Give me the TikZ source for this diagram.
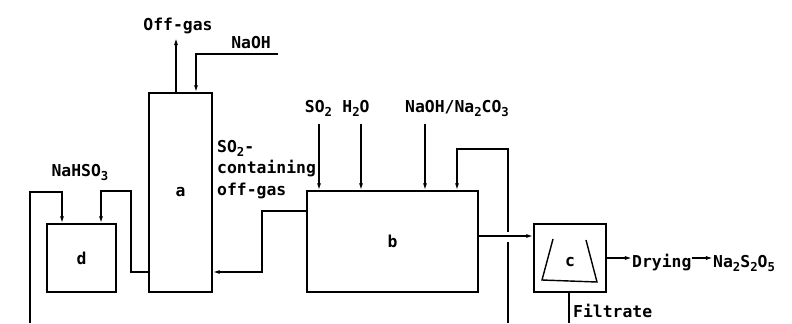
\documentclass[tikz,border=0pt]{standalone}
\usepackage{fontspec}
\setmainfont{DejaVu Sans Mono}
\usetikzlibrary{arrows.meta}
\newcommand\low[1]{\raisebox{-0.45ex}{\fontsize{10.5}{10.5}\selectfont #1}}
\tikzset{
  vessel/.style={draw, line width=1.2pt, inner sep=0pt},
  pipe/.style={line width=1.2pt},
  stream/.style={pipe, -{Latex[length=6pt,width=3.5pt]}},
  lbl/.style={inner sep=0pt}
}
\begin{document}
\begin{tikzpicture}[x=0.03cm, y=0.03cm, font=\fontsize{14}{18.3}\selectfont\bfseries]
    \useasboundingbox (0,0) rectangle (792,323);
    % units
    \node [vessel, minimum width=1.89cm, minimum height=5.97cm] (a) at (180.5,130.5) {a};
    \node [vessel, minimum width=2.07cm, minimum height=2.04cm] (d) at (81.5,65) {d};
    \node [vessel, minimum width=5.13cm, minimum height=3.03cm] (b) at (392.5,81.5) {b};
    \node [vessel, minimum width=2.16cm, minimum height=2.04cm, text height=14.5pt] (c) at (570,65) {c};
    \draw [pipe] (553,84) -- (542,43) -- (597,41) -- (586,83);
    % labels
    \node [lbl, anchor=base] (offgas) at (178,293) {Off-gas};
    \node [lbl, anchor=base] (naoh) at (251,275) {NaOH};
    \node [lbl, anchor=base] (nahso) at (80,147) {NaHSO\low{3}};
    \node [lbl, anchor=north west, align=left] (sogas) at (217,183) {SO\low{2}-\\containing\\off-gas};
    \node [lbl, anchor=base] (so) at (318.5,211) {SO\low{2}};
    \node [lbl, anchor=base] (water) at (356,211) {H\low{2}O};
    \node [lbl, anchor=base] (alkali) at (457,211) {NaOH/Na\low{2}CO\low{3}};
    \node [lbl, anchor=base west] (dry) at (632,56) {Drying};
    \node [lbl, anchor=base west] (prod) at (713,56) {Na\low{2}S\low{2}O\low{5}};
    \node [lbl, anchor=base west] (filtrate) at (573,6) {Filtrate};
    % free ends and bends
    \coordinate (gasout) at (176,285);
    \coordinate (naohin) at (278,269);
    \coordinate (naohbend) at (196,269);
    \coordinate (leftin) at (30,0);
    \coordinate (leftbend) at (62,131);
    \coordinate (adbend) at (131,51);
    \coordinate (adtop) at (101,132);
    \coordinate (babend) at (262,112);
    \coordinate (balow) at (262,51);
    \coordinate (soin) at (319,199);
    \coordinate (waterin) at (361,199);
    \coordinate (alkaliin) at (425,199);
    \coordinate (recin) at (508,0);
    \coordinate (recgap) at (508,91);
    \coordinate (rectop) at (508,174);
    \coordinate (recb) at (457,174);
    \coordinate (bcline) at (490,87);
    \coordinate (filtout) at (569,0);
    % streams
    \draw [stream] (gasout |- a.north) -- (gasout);
    \draw [stream] (naohin) -- (naohbend) -- (naohbend |- a.north);
    \draw [stream] (leftin) |- (leftbend) -- (leftbend |- d.north);
    \draw [stream] (adbend -| a.west) -- (adbend) |- (adtop) -- (adtop |- d.north);
    \draw [stream] (babend -| b.west) -- (babend) -- (balow) -- (balow -| a.east);
    \draw [stream] (soin) -- (soin |- b.north);
    \draw [stream] (waterin) -- (waterin |- b.north);
    \draw [stream] (alkaliin) -- (alkaliin |- b.north);
    \draw [pipe] (recin) -- ++(0,81);
    \draw [stream] (recgap) -- (rectop) -- (recb) -- (recb |- b.north);
    \draw [stream] (bcline -| b.east) -- (bcline -| c.west);
    \draw [stream] (c.east) -- (c.east -| dry.west);
    \draw [stream] (c.east -| dry.east) -- (c.east -| prod.west);
    \draw [pipe] (filtout |- c.south) -- (filtout);
\end{tikzpicture}
\end{document}
